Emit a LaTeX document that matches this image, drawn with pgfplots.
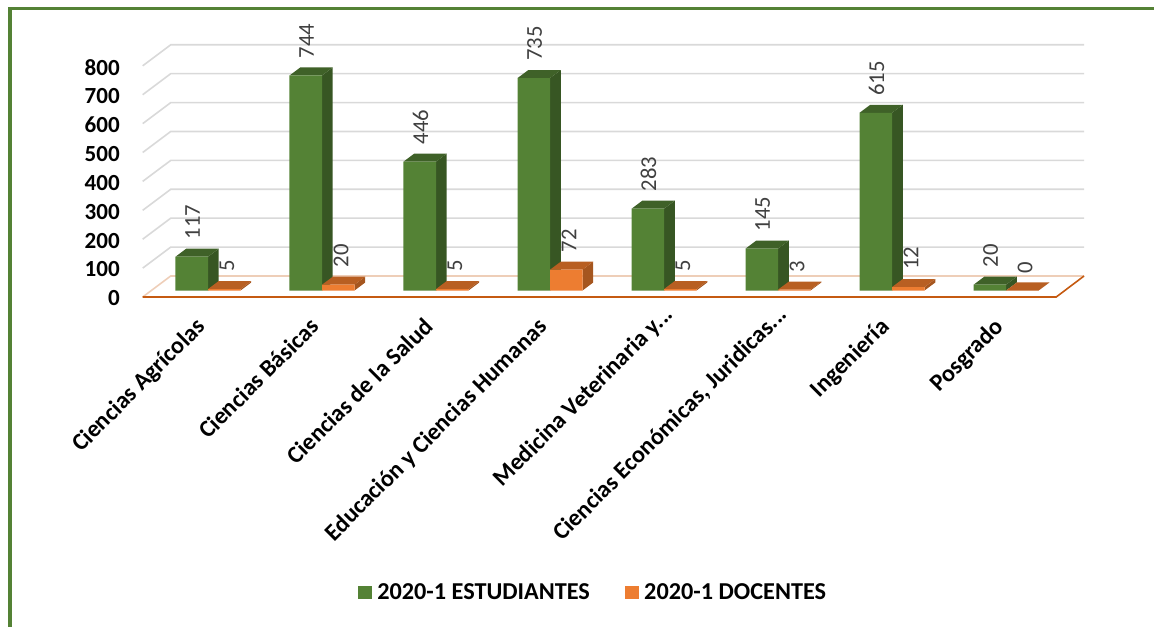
\documentclass[border=0pt]{standalone}
\usepackage{pgfplots}
\pgfplotsset{compat=1.18}
\usepackage{fontspec}
\setmainfont{Carlito}
\definecolor{gfront}{HTML}{548235}
\definecolor{gside}{HTML}{375623}
\definecolor{gtop}{HTML}{3F6128}
\definecolor{ofront}{HTML}{ED7D31}
\definecolor{oside}{HTML}{A5561F}
\definecolor{otop}{HTML}{B85F22}
\definecolor{floorl}{HTML}{C55A11}
\definecolor{gridc}{HTML}{D9D9D9}
\definecolor{labc}{HTML}{404040}
\newcommand{\cube}[4]{%
 \addplot[fill=#3,draw=none,forget plot] coordinates {(#1+0.285,0) (#1+0.379,27.7) (#1+0.379,#2+27.7) (#1+0.285,#2)} --cycle;
 \addplot[fill=#4,draw=none,forget plot] coordinates {(#1,#2) (#1+0.285,#2) (#1+0.379,#2+27.7) (#1+0.094,#2+27.7)} --cycle;
}
\newcommand{\gridl}[1]{%
 \addplot[gridc,line width=1.2pt,forget plot] coordinates {(-0.5728,#1-22.5) (-0.327,#1+50.2) (7.684,#1+50.2)};
}
\begin{document}
\begin{tikzpicture}
\path[use as bounding box] (0,0) rectangle (865.5pt,469.5pt);
\draw[gfront,line width=2.4pt] (7.5pt,-2pt) -- (7.5pt,463pt) -- (870pt,463pt);
\begin{axis}[
 at={(107.03pt,246.75pt)},anchor=south west,
 scale only axis,width=706pt,height=189.75pt,
 xmin=-0.5728,xmax=7.684,ymin=-22.5,ymax=852.9,
 axis line style={draw=none},major tick length=0pt,clip=false,
 /pgf/number format/assume math mode=true,
 xtick={0,1,2,3,4,5,6,7},
 xticklabels={Ciencias Agrícolas,Ciencias Básicas,Ciencias de la Salud,Educación y Ciencias Humanas,{Medicina Veterinaria y.{}.{}.\kern-12.75pt},{Ciencias Económicas, Juridicas.{}.{}.\kern-12.75pt},Ingeniería,Posgrado},
 xticklabel style={xshift=-10.2pt,yshift=-14pt,rotate=45,anchor=north east,font=\bfseries\fontsize{18}{18}\selectfont,inner sep=0pt},
 ytick={-22.5,77.5,177.5,277.5,377.5,477.5,577.5,677.5,777.5},
 yticklabels={0,100,200,300,400,500,600,700,800},
 yticklabel style={font=\bfseries\fontsize{17.3}{17.3}\selectfont,inner sep=0pt,xshift=-17pt,yshift=-1pt},
 legend columns=2,
 legend style={at={(0.4789,-1.17)},anchor=center,draw=none,fill=none,font=\bfseries\fontsize{18.2}{18.2}\selectfont,
  /tikz/every even column/.append style={column sep=24.5pt}},
 legend image code/.code={\fill[#1] (0pt,-4.7pt) rectangle (10pt,5pt);},
]
\gridl{100}\gridl{200}\gridl{300}\gridl{400}\gridl{500}\gridl{600}\gridl{700}\gridl{800}
\addplot[floorl!30,line width=1.2pt,forget plot] coordinates {(-0.5728,-22.5) (-0.327,50.2) (7.684,50.2)};
\addplot[floorl,line width=1.2pt,forget plot] coordinates {(-0.5728,-22.5) (7.44,-22.5) (7.684,50.2)};
\cube{-0.285}{117}{gside}{gtop}\cube{0}{5}{oside}{otop}
\cube{0.715}{744}{gside}{gtop}\cube{1}{20}{oside}{otop}
\cube{1.715}{446}{gside}{gtop}\cube{2}{5}{oside}{otop}
\cube{2.715}{735}{gside}{gtop}\cube{3}{72}{oside}{otop}
\cube{3.715}{283}{gside}{gtop}\cube{4}{5}{oside}{otop}
\cube{4.715}{145}{gside}{gtop}\cube{5}{3}{oside}{otop}
\cube{5.715}{615}{gside}{gtop}\cube{6}{12}{oside}{otop}
\cube{6.715}{20}{gside}{gtop}\cube{7}{0}{oside}{otop}
\addplot[ybar,bar width=24.4pt,bar shift=-12.2pt,fill=gfront,draw=none,nodes near coords,
  every node near coord/.append style={xshift=-11.6pt,yshift=12.75pt,rotate=90,anchor=west,font=\fontsize{17}{17}\selectfont,text=labc,inner sep=0pt}] coordinates {(0,117) (1,744) (2,446) (3,735) (4,283) (5,145) (6,615) (7,20)};
\addlegendentry{\kern2.25pt 2020-1 ESTUDIANTES}
\addplot[ybar,bar width=24.4pt,bar shift=12.2pt,fill=ofront,draw=none,nodes near coords,
  every node near coord/.append style={xshift=14.25pt,yshift=12.75pt,rotate=90,anchor=west,font=\fontsize{17}{17}\selectfont,text=labc,inner sep=0pt}] coordinates {(0,5) (1,20) (2,5) (3,72) (4,5) (5,3) (6,12) (7,0)};
\addlegendentry{\kern2.25pt 2020-1 DOCENTES}
\end{axis}
\node[font=\bfseries\fontsize{27}{27}\selectfont,anchor=base] at (346pt,475pt) {p};
\node[font=\bfseries\fontsize{27}{27}\selectfont,anchor=base] at (642pt,475pt) {g};
\end{tikzpicture}
\end{document}
